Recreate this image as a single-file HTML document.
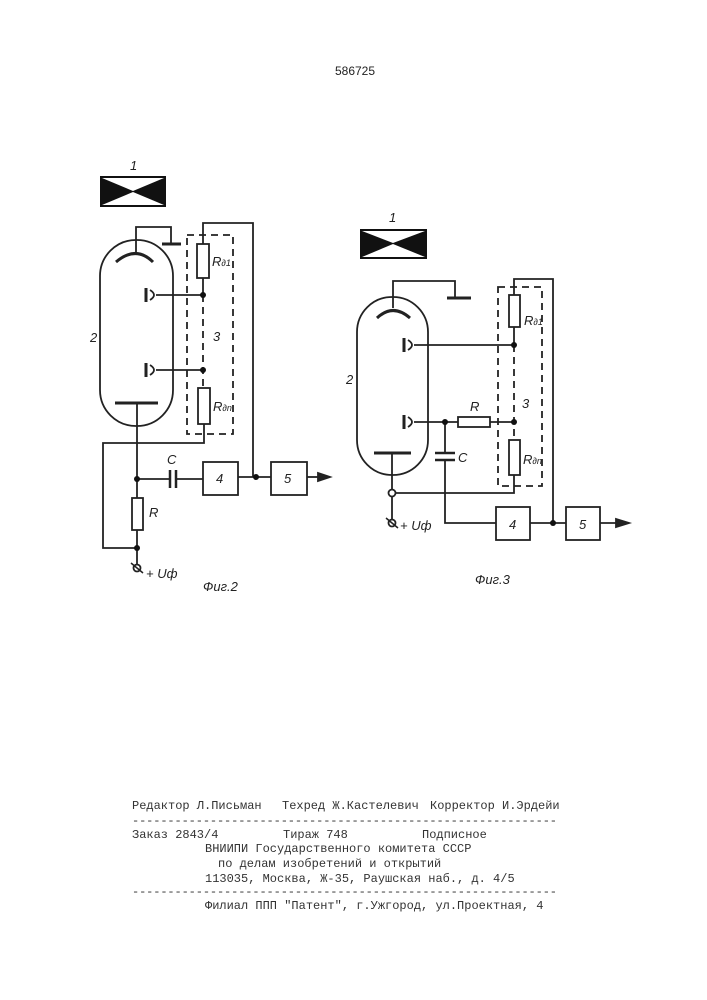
<!DOCTYPE html>
<html><head><meta charset="utf-8"><style>
html,body{margin:0;padding:0;background:#fff;}
svg{display:block}
text{font-family:"Liberation Sans","DejaVu Sans",sans-serif;fill:#222}
.m{font-family:"Liberation Mono","DejaVu Sans Mono",monospace;font-size:12px;fill:#333}
.i{font-style:italic;font-size:13px}
</style></head><body>
<svg width="707" height="1000" viewBox="0 0 707 1000" xmlns="http://www.w3.org/2000/svg">
<g fill="none" stroke="#222" stroke-width="1.8">
<!-- FIG 2 -->
<rect x="100" y="176" width="66" height="31" fill="#111" stroke="none"/>
<polygon points="102,178 164,178 133,191" fill="#fff" stroke="none"/>
<polygon points="102,205 164,205 133,192" fill="#fff" stroke="none"/>
<rect x="100" y="240" width="73" height="186" rx="36" ry="36"/>
<path d="M116,262 Q136,245 153,262" stroke-width="3"/>
<polyline points="136,253 136,227 171,227 171,244"/>
<line x1="162" y1="244" x2="181" y2="244" stroke-width="3"/>
<rect x="187" y="235" width="46" height="199" stroke-dasharray="7,5"/>
<polyline points="203,244 203,223 253,223 253,477"/>
<rect x="197" y="244" width="12" height="34"/>
<line x1="203" y1="278" x2="203" y2="295"/>
<line x1="203" y1="295" x2="203" y2="388" stroke-dasharray="7,5"/>
<line x1="146" y1="288" x2="146" y2="302" stroke-width="3"/>
<path d="M150,290 Q158,295 150,300"/>
<line x1="156" y1="295" x2="203" y2="295"/>
<line x1="146" y1="363" x2="146" y2="377" stroke-width="3"/>
<path d="M150,365 Q158,370 150,375"/>
<line x1="156" y1="370" x2="203" y2="370"/>
<rect x="198" y="388" width="12" height="36"/>
<polyline points="204,424 204,443 103,443 103,548 137,548"/>
<line x1="115" y1="403" x2="158" y2="403" stroke-width="3"/>
<line x1="137" y1="403" x2="137" y2="498"/>
<rect x="132" y="498" width="11" height="32"/>
<line x1="137" y1="530" x2="137" y2="565"/>
<line x1="137" y1="479" x2="170" y2="479"/>
<line x1="170" y1="470" x2="170" y2="488" stroke-width="2.5"/>
<line x1="176" y1="470" x2="176" y2="488" stroke-width="2.5"/>
<line x1="176" y1="479" x2="203" y2="479"/>
<rect x="203" y="462" width="35" height="33"/>
<line x1="238" y1="477" x2="271" y2="477"/>
<rect x="271" y="462" width="36" height="33"/>
<line x1="307" y1="477" x2="320" y2="477"/>
<polygon points="318,473 330,477 318,481" fill="#222"/>
<circle cx="137" cy="568" r="3.5" fill="#fff"/>
<line x1="131" y1="563" x2="143" y2="573" stroke-width="1.5"/>
<!-- FIG 3 -->
<rect x="360" y="229" width="67" height="30" fill="#111" stroke="none"/>
<polygon points="362,231 425,231 393,243" fill="#fff" stroke="none"/>
<polygon points="362,257 425,257 393,244" fill="#fff" stroke="none"/>
<rect x="357" y="297" width="71" height="178" rx="35" ry="35"/>
<path d="M377,318 Q393,303 410,318" stroke-width="3"/>
<polyline points="393,308 393,281 455,281 455,297"/>
<line x1="447" y1="298" x2="471" y2="298" stroke-width="3"/>
<rect x="498" y="287" width="44" height="199" stroke-dasharray="7,5"/>
<polyline points="514,295 514,279 553,279 553,523"/>
<rect x="509" y="295" width="11" height="32"/>
<line x1="514" y1="327" x2="514" y2="345"/>
<line x1="514" y1="345" x2="514" y2="440" stroke-dasharray="7,5"/>
<line x1="404" y1="338" x2="404" y2="352" stroke-width="3"/>
<path d="M408,340 Q416,345 408,350"/>
<line x1="414" y1="345" x2="514" y2="345"/>
<line x1="404" y1="415" x2="404" y2="429" stroke-width="3"/>
<path d="M408,417 Q416,422 408,427"/>
<line x1="414" y1="422" x2="458" y2="422"/>
<rect x="458" y="417" width="32" height="10"/>
<line x1="490" y1="422" x2="514" y2="422"/>
<rect x="509" y="440" width="11" height="35"/>
<polyline points="514,475 514,493 395,493"/>
<line x1="374" y1="453" x2="411" y2="453" stroke-width="3"/>
<line x1="392" y1="453" x2="392" y2="490"/>
<circle cx="392" cy="493" r="3.5" fill="#fff"/>
<line x1="392" y1="496" x2="392" y2="520"/>
<circle cx="392" cy="523" r="3.5" fill="#fff"/>
<line x1="386" y1="518" x2="398" y2="528" stroke-width="1.5"/>
<line x1="445" y1="422" x2="445" y2="453"/>
<line x1="435" y1="453" x2="455" y2="453" stroke-width="2.5"/>
<line x1="435" y1="460" x2="455" y2="460" stroke-width="2.5"/>
<polyline points="445,460 445,523 496,523"/>
<rect x="496" y="507" width="34" height="33"/>
<line x1="530" y1="523" x2="566" y2="523"/>
<rect x="566" y="507" width="34" height="33"/>
<line x1="600" y1="523" x2="618" y2="523"/>
<polygon points="616,519 629,523 616,527" fill="#222"/>
</g>
<g fill="#111">
<circle cx="203" cy="295" r="3"/><circle cx="203" cy="370" r="3"/>
<circle cx="137" cy="479" r="3"/><circle cx="137" cy="548" r="3"/>
<circle cx="256" cy="477" r="3"/>
<circle cx="514" cy="345" r="3"/><circle cx="514" cy="422" r="3"/>
<circle cx="445" cy="422" r="3"/><circle cx="553" cy="523" r="3"/>
</g>
<text x="355" y="75" font-size="12" text-anchor="middle">586725</text>
<text class="i" x="130" y="170">1</text>
<text class="i" x="90" y="342">2</text>
<text class="i" x="213" y="341">3</text>
<text class="i" x="212" y="266" font-size="11">R<tspan font-size="9">∂1</tspan></text>
<text class="i" x="213" y="411" font-size="11">R<tspan font-size="9">∂n</tspan></text>
<text class="i" x="167" y="464">C</text>
<text class="i" x="216" y="483">4</text>
<text class="i" x="284" y="483">5</text>
<text class="i" x="149" y="517">R</text>
<text class="i" x="146" y="578" font-size="14">+ Uф</text>
<text class="i" x="203" y="591" font-size="14">Фиг.2</text>
<text class="i" x="389" y="222">1</text>
<text class="i" x="346" y="384">2</text>
<text class="i" x="522" y="408">3</text>
<text class="i" x="524" y="325" font-size="11">R<tspan font-size="9">∂1</tspan></text>
<text class="i" x="523" y="464" font-size="11">R<tspan font-size="9">∂n</tspan></text>
<text class="i" x="470" y="411">R</text>
<text class="i" x="458" y="462">C</text>
<text class="i" x="509" y="529">4</text>
<text class="i" x="579" y="529">5</text>
<text class="i" x="400" y="530" font-size="14">+ Uф</text>
<text class="i" x="475" y="584" font-size="14">Фиг.3</text>
<text class="m" x="132" y="809">Редактор Л.Письман</text>
<text class="m" x="282" y="809">Техред Ж.Кастелевич</text>
<text class="m" x="430" y="809">Корректор И.Эрдейи</text>
<text class="m" x="132" y="824" textLength="425">------------------------------------------------------------</text>
<text class="m" x="132" y="838">Заказ 2843/4</text>
<text class="m" x="283" y="838">Тираж 748</text>
<text class="m" x="422" y="838">Подписное</text>
<text class="m" x="205" y="852">ВНИИПИ Государственного комитета СССР</text>
<text class="m" x="218" y="867">по делам изобретений и открытий</text>
<text class="m" x="205" y="882">113035, Москва, Ж-35, Раушская наб., д. 4/5</text>
<text class="m" x="132" y="895" textLength="425">------------------------------------------------------------</text>
<text class="m" x="205" y="909">Филиал ППП "Патент", г.Ужгород, ул.Проектная, 4</text>
</svg>
</body></html>
